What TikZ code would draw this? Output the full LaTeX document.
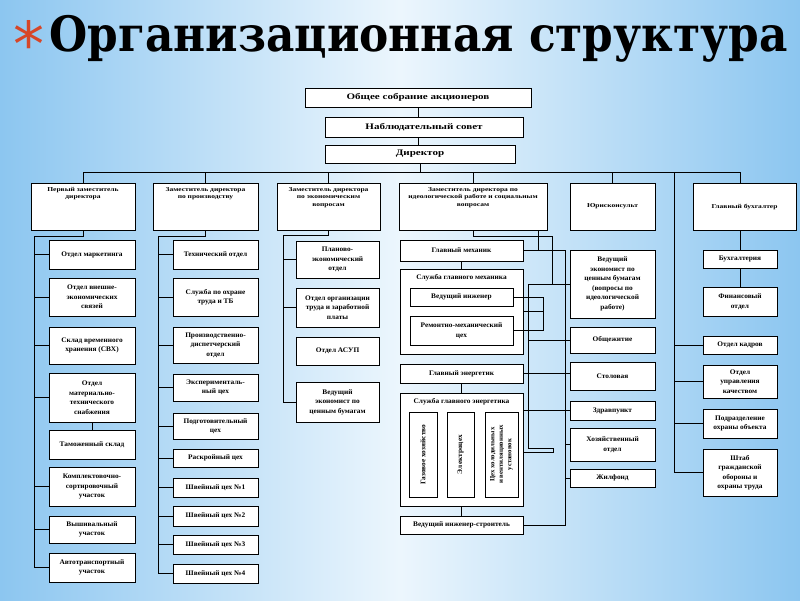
\documentclass[tikz,border=0pt]{standalone}
\usepackage{fontspec}
\setmainfont{Liberation Serif}
\newfontfamily\unitfont{Liberation Serif}[FakeStretch=1.05]
\newfontfamily\deputyfont{Liberation Serif}[FakeStretch=1.25]
\newfontfamily\boardfont{Liberation Serif}[FakeStretch=1.3]
\newfontfamily\headfont{DejaVu Serif Condensed}
\newfontfamily\starfont{DejaVu Sans}
\usetikzlibrary{positioning}

\definecolor{skyblue}{RGB}{140,198,240}
\definecolor{skyglow}{RGB}{236,246,253}
\definecolor{starred}{RGB}{214,70,40}

\tikzset{
  unit/.style={draw=black, fill=white, line width=0.8pt, inner sep=0.5pt, align=center,
    font=\unitfont\bfseries\fontsize{7}{9.5}\selectfont},
  unittext/.style={inner sep=0.5pt, align=center, font=\unitfont\bfseries\fontsize{7}{9.5}\selectfont},
  deputytext/.style={inner sep=0.5pt, align=center, font=\deputyfont\bfseries\fontsize{6}{7.4}\selectfont},
  board/.style={font=\boardfont\bfseries\fontsize{8.5}{10}\selectfont},
  link/.style={draw=black, line width=0.8pt}
}

% box from (x1,y1) to (x2,y2), y counted downwards
\newcommand{\unitbox}[6]{\node[unit, minimum width={(#4-#2)*1pt}, minimum height={(#5-#3)*1pt}] (#1) at ({(#2+#4)/2},{(#3+#5)/2}) {#6};}

\begin{document}
\begin{tikzpicture}[x=1pt,y=-1pt]
        \useasboundingbox (0,0) rectangle (800,600);
        \shade[left color=skyblue, right color=skyblue, middle color=skyglow] (0,0) rectangle (800,600);
        %% title
        \node[anchor=base, text=starred, font=\starfont\fontsize{62}{62}\selectfont] (star) at (29,66) {*};
        \node[anchor=base west, font=\headfont\bfseries\fontsize{50}{56}\selectfont] (title) at (46,51)
            {\resizebox{738pt}{!}{Организационная структура}};
        %% top management
        \unitbox{gm}{305}{88}{531}{107}{}
        \node[board] (gmt) at (gm.center) {Общее собрание акционеров};
        \unitbox{ns}{325}{117}{523}{137}{}
        \node[board] (nst) at (ns.center) {Наблюдательный совет};
        \unitbox{dir}{325}{145}{515}{163}{}
        \node[board] (dirt) at (dir.center) {Директор};
        %% deputies
        \unitbox{d1}{31}{183}{135}{230}{}
        \node[deputytext, below=4pt of d1.north] (d1t) {Первый заместитель\\директора};
        \unitbox{d2}{153}{183}{258}{230}{}
        \node[deputytext, below=4pt of d2.north] (d2t) {Заместитель директора\\по производству};
        \unitbox{d3}{277}{183}{380}{230}{}
        \node[deputytext, below=4pt of d3.north] (d3t) {Заместитель директора\\по экономическим\\вопросам};
        \unitbox{d4}{399}{183}{547}{230}{}
        \node[deputytext, below=4pt of d4.north] (d4t) {Заместитель директора по\\идеологической работе и социальным\\вопросам};
        \unitbox{jur}{570}{183}{655}{230}{}
        \node[deputytext] (jurt) at (jur.center) {Юрисконсульт};
        \unitbox{d6}{693}{183}{796}{230}{}
        \node[deputytext] (d6t) at (d6.center) {Главный бухгалтер};
        %% first deputy
        \unitbox{mark}{49}{240}{135}{269}{Отдел маркетинга}
        \unitbox{ves}{49}{278}{135}{316}{Отдел внешне-\\экономических\\связей}
        \unitbox{svh}{49}{327}{135}{364}{Склад временного\\хранения (СВХ)}
        \unitbox{mts}{49}{373}{135}{422}{Отдел\\материально-\\технического\\снабжения}
        \unitbox{tam}{49}{430}{135}{459}{Таможенный склад}
        \unitbox{kss}{49}{467}{135}{506}{Комплектовочно-\\сортировочный\\участок}
        \unitbox{vysh}{49}{516}{135}{543}{Вышивальный\\участок}
        \unitbox{avto}{49}{553}{135}{582}{Автотранспортный\\участок}
        %% production
        \unitbox{tech}{173}{240}{258}{269}{Технический отдел}
        \unitbox{ohrt}{173}{278}{258}{316}{Служба по охране\\труда и ТБ}
        \unitbox{pdo}{173}{327}{258}{363}{Производственно-\\диспетчерский\\отдел}
        \unitbox{exp}{173}{374}{258}{401}{Эксперименталь-\\ный цех}
        \unitbox{podg}{173}{413}{258}{439}{Подготовительный\\цех}
        \unitbox{rask}{173}{449}{258}{467}{Раскройный цех}
        \unitbox{sh1}{173}{478}{258}{497}{Швейный цех №1}
        \unitbox{sh2}{173}{506}{258}{526}{Швейный цех №2}
        \unitbox{sh3}{173}{535}{258}{554}{Швейный цех №3}
        \unitbox{sh4}{173}{564}{258}{583}{Швейный цех №4}
        %% economics
        \unitbox{plan}{296}{241}{379}{278}{Планово-\\экономический\\отдел}
        \unitbox{org}{296}{288}{379}{327}{Отдел организации\\труда и заработной\\платы}
        \unitbox{asup}{296}{337}{379}{365}{Отдел АСУП}
        \unitbox{ved3}{296}{382}{379}{422}{Ведущий\\экономист по\\ценным бумагам}
        %% social and technical services
        \unitbox{mech}{400}{240}{523}{261}{Главный механик}
        \unitbox{smech}{400}{269}{523}{354}{}
        \node[unittext, below=5pt of smech.north] (smecht) {Служба главного механика};
        \unitbox{vinzh}{410}{288}{513}{306}{Ведущий инженер}
        \unitbox{remc}{410}{316}{513}{345}{Ремонтно-механический\\цех}
        \unitbox{glen}{400}{364}{523}{383}{Главный энергетик}
        \unitbox{sen}{400}{393}{523}{506}{}
        \node[unittext, below=5pt of sen.north] (sent) {Служба главного энергетика};
        \unitbox{en1}{409}{412}{437}{497}{}
        \node[unittext, rotate=90] (en1t) at (en1.center) {Газовое хозяйство};
        \unitbox{en2}{447}{412}{474}{497}{}
        \node[unittext, rotate=90] (en2t) at (en2.center) {Электроцех};
        \unitbox{en3}{485}{412}{518}{497}{}
        \node[unittext, rotate=90, font=\unitfont\bfseries\fontsize{6.5}{8.5}\selectfont] (en3t) at (en3.center)
            {Цех холодильных\\и вентиляционных\\установок};
        \unitbox{stroy}{400}{516}{523}{534}{Ведущий инженер-строитель}
        \unitbox{eco5}{570}{250}{655}{318}{Ведущий\\экономист по\\ценным бумагам\\(вопросы по\\идеологической\\работе)}
        \unitbox{obsh}{570}{327}{655}{353}{Общежитие}
        \unitbox{stol}{570}{362}{655}{390}{Столовая}
        \unitbox{zdrav}{570}{401}{655}{420}{Здравпункт}
        \unitbox{hoz}{570}{428}{655}{461}{Хозяйственный\\отдел}
        \unitbox{zhil}{570}{469}{655}{487}{Жилфонд}
        %% accounting and director's services
        \unitbox{buh}{703}{250}{777}{268}{Бухгалтерия}
        \unitbox{fin}{703}{287}{777}{316}{Финансовый\\отдел}
        \unitbox{kadr}{703}{336}{777}{354}{Отдел кадров}
        \unitbox{kach}{703}{365}{777}{398}{Отдел\\управления\\качеством}
        \unitbox{ohr}{703}{409}{777}{438}{Подразделение\\охраны объекта}
        \unitbox{shtab}{703}{449}{777}{496}{Штаб\\гражданской\\обороны и\\охраны труда}
        %% links: top
        \draw[link] (gm.south) -- (gm.south |- ns.north);
        \draw[link] (gm.south |- ns.south) -- (gm.south |- dir.north);
        \coordinate (busL) at (83,172);
        \coordinate (busR) at (740,172);
        \draw[link] (busL) -- (busR);
        \draw[link] (dir.south) -- (dir.south |- busL);
        \foreach \d in {d1,d2,d3,d4,jur}
            \draw[link] (\d.north) -- (\d.north |- busL);
        \draw[link] (busR) -- (busR |- d6.north);
        %% links: columns
        \coordinate (b1) at (34,236);
        \draw[link] (d1.south) |- (b1) |- (avto.west);
        \foreach \n in {mark,ves,svh,mts,kss,vysh}
            \draw[link] (\n.west) -- (\n.west -| b1);
        \draw[link] (mts.south) -- (tam.north);
        \coordinate (b2) at (158,236);
        \draw[link] (d2.south) |- (b2) |- (sh4.west);
        \foreach \n in {tech,ohrt,pdo,exp,podg,rask,sh1,sh2,sh3}
            \draw[link] (\n.west) -- (\n.west -| b2);
        \coordinate (b3) at (283,235);
        \draw[link] (d3.south) |- (b3) |- (ved3.west);
        \foreach \n in {plan,org}
            \draw[link] (\n.west) -- (\n.west -| b3);
        %% links: fourth column and social services
        \coordinate (c4a) at (552,236);
        \draw[link] (d4.south) |- (c4a) |- (eco5.west);
        \coordinate (c4b) at (538,230);
        \draw[link] (mech.east) -| (c4b);
        \coordinate (enbus) at (565,0);
        \draw[link] (mech.east) -- (mech.east -| enbus) -- (enbus |- stroy.east) -- (stroy.east);
        \draw[link] (mech.south) -- (smech.north);
        \coordinate (brk1) at (543,0);
        \draw[link] (vinzh.east) -| (brk1 |- remc.east) -- (remc.east);
        \draw[link] (smech.east) -- (smech.east -| brk1);
        \draw[link] (glen.south) -- (sen.north);
        \draw[link] (sen.south) -- (stroy.north);
        \coordinate (sobus) at (528,284);
        \coordinate (sobot) at (528,448);
        \coordinate (brk2) at (553,452.5);
        \draw[link] (sobus) -- (sobus -| eco5.west);
        \draw[link] (sobus) |- (obsh.west);
        \draw[link] (sobus) -- (sobot) -| (brk2) -- (brk2 -| sen.east);
        \draw[link] (glen.east) -- (glen.east -| stol.west);
        \draw[link] (zdrav.west) -- (zdrav.west -| sen.east);
        \foreach \n in {hoz,zhil}
            \draw[link] (\n.west) -- (\n.west -| enbus);
        %% links: accounting
        \draw[link] (d6.south -| busR) -- (busR |- buh.north);
        \draw[link] (buh.south) -- (fin.north);
        \coordinate (hr) at (674,172);
        \draw[link] (hr) |- (shtab.west);
        \foreach \n in {kadr,kach,ohr}
            \draw[link] (\n.west) -- (\n.west -| hr);
    \end{tikzpicture}
\end{document}
